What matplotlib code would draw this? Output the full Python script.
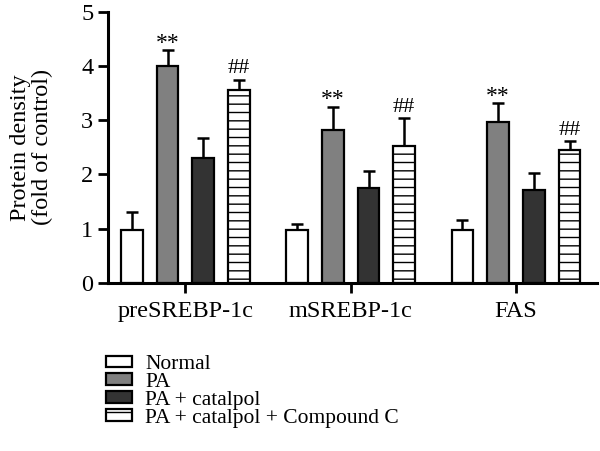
import numpy as np
import matplotlib.pyplot as plt

plt.rcParams['font.family'] = ['Liberation Serif', 'DejaVu Serif']

groups = ['preSREBP-1c', 'mSREBP-1c', 'FAS']
series = ['Normal', 'PA', 'PA + catalpol', 'PA + catalpol + Compound C']
means = [
    [0.97, 0.97, 0.97],
    [4.00, 2.82, 2.96],
    [2.31, 1.75, 1.72],
    [3.56, 2.52, 2.46],
]
errs = [
    [0.34, 0.12, 0.20],
    [0.30, 0.43, 0.35],
    [0.36, 0.32, 0.31],
    [0.19, 0.52, 0.15],
]
marks = [
    ['', '', ''],
    ['**', '**', '**'],
    ['', '', ''],
    ['##', '##', '##'],
]

colors = ['white', '#808080', '#333333', 'white']
hatches = [None, None, None, '--']

plt.rcParams['hatch.linewidth'] = 1.0

fig = plt.figure(figsize=(6, 4.51), dpi=100)
ax = fig.add_axes([0.18, 0.3725, 0.815, 0.6015])

x = np.arange(len(groups))
width = 0.13
step = 0.216
for i, name in enumerate(series):
    pos = x + (i - 1.5) * step
    ax.bar(pos, means[i], width, color=colors[i], edgecolor='black',
           linewidth=1.6, hatch=hatches[i], label=name, zorder=2)
    ax.errorbar(pos, means[i], yerr=[np.zeros(3), errs[i]], fmt='none',
                ecolor='black', elinewidth=1.8, capsize=4.5, capthick=1.8, zorder=1)
    for j in range(3):
        m = marks[i][j]
        if m:
            off = -0.07 if m == '**' else 0.02
            ax.text(pos[j], means[i][j] + errs[i][j] + off, m,
                    ha='center', va='bottom', fontsize=17 if m == '**' else 16)

ax.set_xlim(-0.468, 2.49)
ax.set_ylim(0, 5)
ax.set_yticks(range(6))
ax.set_xticks(x)
ax.set_xticklabels(groups)
ax.set_ylabel('Protein density\n(fold of control)', fontsize=17.5, labelpad=20,
              linespacing=1.1)
ax.tick_params(axis='both', labelsize=17.5, width=2, length=7, direction='out')
ax.tick_params(axis='x', pad=6)
for s in ['top', 'right']:
    ax.spines[s].set_visible(False)
for s in ['left', 'bottom']:
    ax.spines[s].set_linewidth(2.2)

fig.legend(loc='upper left', bbox_to_anchor=(0.163, 0.232), frameon=False,
           fontsize=15.5, handlelength=1.2, handleheight=0.45, labelspacing=-0.05,
           handletextpad=0.6, borderaxespad=0)

fig.savefig('out.png', dpi=100)
